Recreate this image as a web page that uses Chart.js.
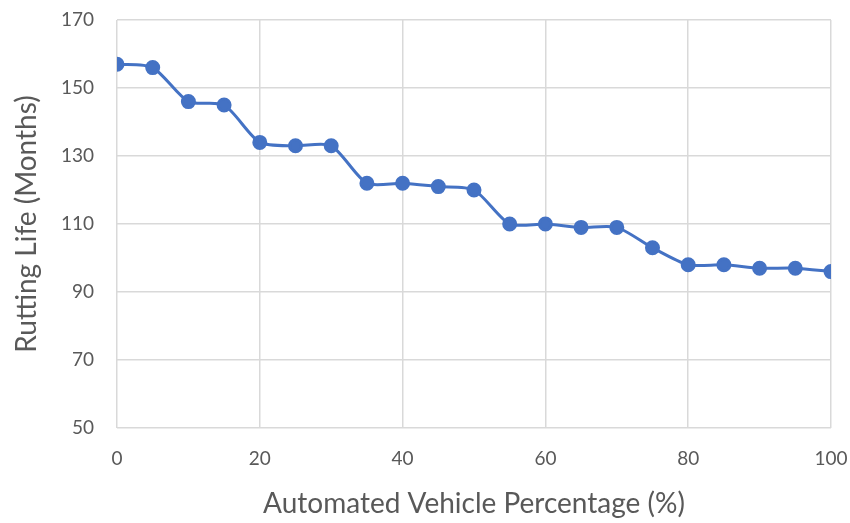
<!DOCTYPE html>
<html>
<head>
<meta charset="utf-8">
<script src="https://cdn.jsdelivr.net/npm/chart.js@4"></script>
<style>
  html, body { margin: 0; padding: 0; background: #fff; }
  #wrap { width: 850px; height: 523px; }
</style>
</head>
<body>
<div id="wrap"><canvas id="myChart" width="850" height="523"></canvas></div>
<script>
// automated vehicle share (%) and rutting life (months)
const avPercent = [0, 5, 10, 15, 20, 25, 30, 35, 40, 45, 50, 55, 60, 65, 70, 75, 80, 85, 90, 95, 100];
const ruttingLife = [157, 156, 146, 145, 134, 133, 133, 122, 122, 121, 120, 110, 110, 109, 109, 103, 98, 98, 97, 97, 96];
const xTicks = [0, 20, 40, 60, 80, 100];
const yTicks = [50, 70, 90, 110, 130, 150, 170];

const gray = '#595959';
const font = "Lato, 'Open Sans', sans-serif";

var ctx = document.getElementById('myChart').getContext('2d');
var myChart = new Chart(ctx, {
  type: 'line',
  data: {
    datasets: [{
      data: avPercent.map((x, i) => ({ x: x, y: ruttingLife[i] })),
      borderColor: '#4472C4',
      backgroundColor: '#4472C4',
      borderWidth: 3,
      pointRadius: 6,
      pointHoverRadius: 6,
      tension: 0.25,
      fill: false,
    }]
  },
  options: {
    responsive: false,
    animation: false,
    layout: { padding: { left: 0, right: 19, top: 20, bottom: 0 } },
    plugins: { legend: { display: false }, tooltip: { enabled: false } },
    scales: {
      x: {
        type: 'linear',
        min: 0, max: 100,
        afterBuildTicks: (axis) => { axis.ticks = xTicks.map(v => ({ value: v })); },
        grid: { color: '#d9d9d9', lineWidth: 1.5, drawTicks: false },
        border: { display: false },
        ticks: { color: gray, font: { family: font, size: 19 }, padding: 19 },
        title: { display: true, text: 'Automated Vehicle Percentage (%)', color: gray,
                 font: { family: font, size: 28 }, padding: { top: 10, bottom: 2 } },
        afterFit: (axis) => { axis.height = 95; axis.paddingLeft = 0; axis.paddingRight = 0; }
      },
      y: {
        min: 50, max: 170,
        afterBuildTicks: (axis) => { axis.ticks = yTicks.map(v => ({ value: v })); },
        grid: { color: '#d9d9d9', lineWidth: 1.5, drawTicks: false },
        border: { display: false },
        ticks: { color: gray, font: { family: font, size: 19 }, padding: 23 },
        title: { display: true, text: 'Rutting Life (Months)', color: gray,
                 font: { family: font, size: 28 }, padding: { top: 10, bottom: 0 } },
        afterFit: (axis) => { axis.width = 117; axis.paddingTop = 0; axis.paddingBottom = 0; }
      }
    }
  }
});
</script>
</body>
</html>
